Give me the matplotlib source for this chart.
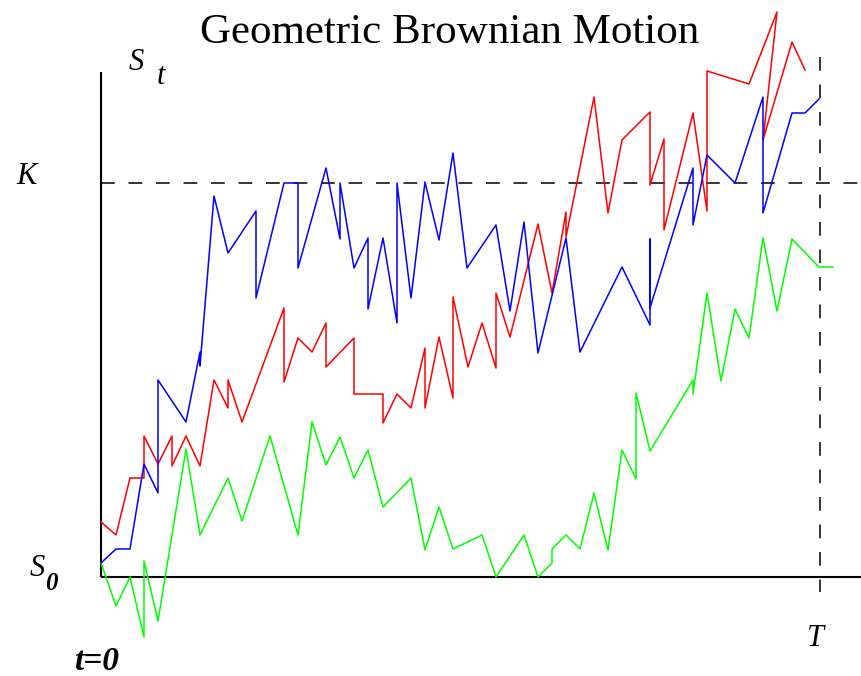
import matplotlib
matplotlib.use("Agg")
import matplotlib.pyplot as plt

# Path values (time coordinate, price coordinate; image units, y grows downward)
red_t = [101,116,130,144,144,158,172,172,186,200,214,228,228,242,284,284,298,312,326,326,354,354,383,383,397,411,425,425,439,453,453,468,482,496,496,510,538,552,566,566,594,608,622,650,650,664,664,693,707,707,749,777,763,792,805]
red_s = [522,535,478,478,436,464,436,466,436,466,380,408,380,422,308,382,338,352,323,367,338,394,394,423,394,408,348,408,337,398,297,367,323,368,293,337,224,293,212,237,97,213,140,112,185,139,230,113,211,71,84,12,140,42,70]

blue_t = [101,116,130,144,158,158,186,200,200,214,228,256,256,284,298,298,326,340,340,354,368,368,383,397,397,411,425,439,453,467,496,510,524,538,566,580,622,650,650,650,693,693,707,735,763,763,792,805,819]
blue_s = [563,549,549,464,493,380,422,352,366,196,253,211,298,183,183,268,168,239,183,268,238,309,238,323,183,298,182,240,153,268,225,311,222,353,238,352,267,325,239,308,168,225,155,183,97,213,113,113,99]

green_t = [101,116,130,144,144,158,186,200,228,242,270,298,312,326,340,354,368,383,411,425,439,453,482,496,524,538,552,552,566,580,594,608,622,636,636,650,693,693,707,721,735,749,763,777,792,819,833]
green_s = [563,606,577,637,561,621,449,535,478,521,436,535,422,465,437,478,450,507,478,550,507,549,535,577,535,577,563,549,535,549,493,550,450,479,393,451,380,394,293,381,309,338,238,311,239,267,267]

t0, t_end, T_mark = 101, 861, 820
S0_level, K_level, S_top = 577, 183, 72
title = "Geometric Brownian Motion"

fig = plt.figure(figsize=(8.61, 6.76), dpi=100)
ax = fig.add_axes([0, 0, 1, 1])
ax.set_xlim(0, 861)
ax.set_ylim(676, 0)
ax.axis("off")

# axes
ax.plot([t0, t0], [S_top, S0_level], color="black", lw=1.5, solid_capstyle="butt")
ax.plot([t0, t_end], [S0_level, S0_level], color="black", lw=1.5, solid_capstyle="butt")
# strike and maturity dashed lines
ax.plot([t0, t_end], [K_level, K_level], color="black", lw=1.1, dashes=(9, 9))
ax.plot([T_mark, T_mark], [57, 592], color="black", lw=1.1, dashes=(9, 9))

ax.plot(green_t, green_s, color="#00ff00", lw=1.1)
ax.plot(red_t, red_s, color="#ff0000", lw=1.1)
ax.plot(blue_t, blue_s, color="#0000ff", lw=1.1)

serif = ["Liberation Serif", "DejaVu Serif"]
ax.text(450, 43, title, fontsize=31, family=serif, ha="center", va="baseline")
ax.text(129, 62, "S", fontsize=22, family=serif, style="italic", ha="left", va="center")
ax.text(157, 77, "t", fontsize=22, family=serif, style="italic", ha="left", va="center")
ax.text(16, 176, "K", fontsize=22, family=serif, style="italic", ha="left", va="center")
ax.text(30, 569, "S", fontsize=22, family=serif, style="italic", ha="left", va="center")
ax.text(45, 584, "0", fontsize=18, family=serif, style="italic", weight="bold", ha="left", va="center")
ax.text(75, 670, "t=0", fontsize=24, family=serif, style="italic", weight="bold", ha="left", va="baseline")
ax.text(807, 638, "T", fontsize=22, family=serif, style="italic", ha="left", va="center")

fig.savefig("out.png", dpi=100)
